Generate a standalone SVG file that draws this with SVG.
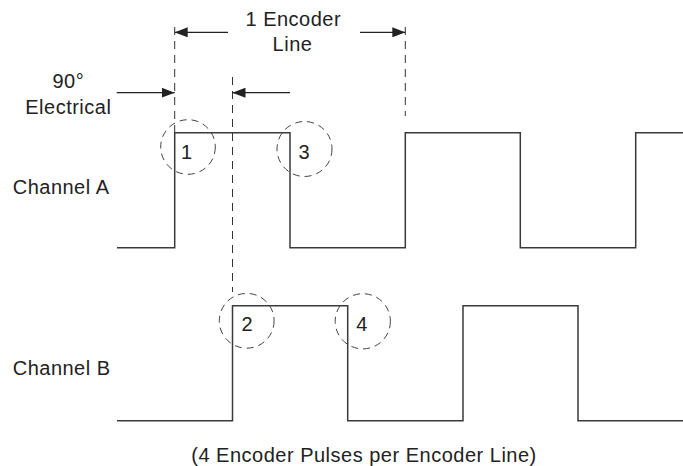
<svg xmlns="http://www.w3.org/2000/svg" width="683" height="466" viewBox="0 0 683 466">
<style>
  text { font-family: "Liberation Sans", Arial, sans-serif; font-size: 20px; fill: #222; letter-spacing: 0.5px; }
  .num { font-size: 20px; letter-spacing: 0; text-anchor: middle; }
  .mid { text-anchor: middle; }
  .wave { fill: none; stroke: #3a3a3a; stroke-width: 1.5; }
  .guide { fill: none; stroke: #333; stroke-width: 1; stroke-dasharray: 8 6; }
  .ring { fill: none; stroke: #444; stroke-width: 1; stroke-dasharray: 7 5; }
  .arrow { fill: none; stroke: #222; stroke-width: 1.3; marker-end: url(#head); }
</style>
<defs>
  <marker id="head" markerUnits="userSpaceOnUse" markerWidth="13" markerHeight="10" refX="13" refY="5" orient="auto">
    <path d="M0,0 L13,5 L0,10 z" fill="#222"/>
  </marker>
</defs>
<rect width="683" height="466" fill="#fff"/>
<g id="guides">
  <line class="guide" x1="174.7" y1="27" x2="174.7" y2="132"/>
  <line class="guide" x1="232.5" y1="77" x2="232.5" y2="292"/>
  <line class="guide" x1="405.3" y1="27" x2="405.3" y2="116"/>
</g>
<g id="connectors">
  <line class="arrow" x1="228" y1="32.3" x2="174.7" y2="32.3"/>
  <line class="arrow" x1="360" y1="32.3" x2="405.3" y2="32.3"/>
  <line class="arrow" x1="116.7" y1="92.7" x2="174.7" y2="92.7"/>
  <line class="arrow" x1="290" y1="92.7" x2="232.5" y2="92.7"/>
</g>
<g id="label-encoder-line">
  <text class="mid" x="293.3" y="26">1 Encoder</text>
  <text class="mid" x="292.5" y="50.7">Line</text>
</g>
<g id="label-90">
  <text class="mid" x="68.3" y="88.3">90°</text>
  <text class="mid" x="68.3" y="114.3">Electrical</text>
</g>
<g id="channel-a">
  <text x="12.7" y="194.3">Channel A</text>
  <path class="wave" d="M117,247.7 H174.7 V132.7 H290 V247.7 H405.3 V132.7 H520.3 V247.7 H635.7 V132.7 H683"/>
</g>
<g id="channel-b">
  <text x="12.7" y="375">Channel B</text>
  <path class="wave" d="M117,420.7 H232.5 V305.7 H347.7 V420.7 H463 V305.7 H578 V420.7 H683"/>
</g>
<g id="marker-1">
  <circle class="ring" cx="188" cy="147" r="27.3"/>
  <text class="num" x="186.5" y="158.5">1</text>
</g>
<g id="marker-3">
  <circle class="ring" cx="304.5" cy="149" r="27.5"/>
  <text class="num" x="304" y="158.5">3</text>
</g>
<g id="marker-2">
  <circle class="ring" cx="246.7" cy="320.8" r="27.4"/>
  <text class="num" x="247" y="331">2</text>
</g>
<g id="marker-4">
  <circle class="ring" cx="362.8" cy="321.3" r="27.6"/>
  <text class="num" x="361.7" y="331">4</text>
</g>
<g id="caption">
  <text class="mid" x="364" y="462">(4 Encoder Pulses per Encoder Line)</text>
</g>
</svg>
